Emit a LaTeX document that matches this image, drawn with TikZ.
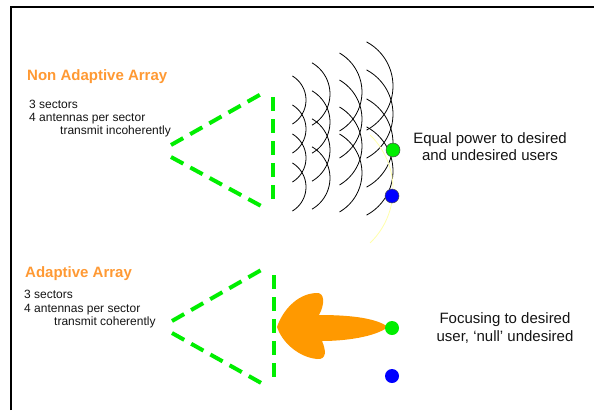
\documentclass[tikz,border=0pt]{standalone}
\usepackage{fontspec}
\setmainfont{Liberation Sans}
\definecolor{dgreen}{RGB}{0,238,0}
\definecolor{orangeT}{RGB}{255,153,51}
\definecolor{orangeF}{RGB}{255,153,0}
\definecolor{paleY}{RGB}{255,255,170}
\definecolor{txt}{RGB}{20,20,20}
\tikzset{
  frame/.style={line width=2pt, black},
  sectorline/.style={dgreen, line width=4pt, dash pattern=on 14pt off 8pt},
  wave/.style={black, line width=0.8pt},
  title/.style={font=\fontsize{15}{17}\selectfont\bfseries, text=orangeT, inner sep=0pt},
  small/.style={font=\fontsize{12}{13}\selectfont, text=txt, inner sep=0pt},
  big/.style={font=\fontsize{15}{17}\selectfont, text=txt, inner sep=0pt},
  dotg/.style={circle, fill=dgreen, minimum size=14pt, inner sep=0pt},
  dotb/.style={circle, fill=blue, minimum size=14pt, inner sep=0pt},
}
\begin{document}
\begin{tikzpicture}[x=1pt,y=-1pt]
\useasboundingbox (0,0) rectangle (594,410);
% frame
\coordinate (fbl) at (11,410);
\coordinate (ftl) at (11,7);
\coordinate (ftr) at (594,7);
\draw[frame] (fbl) -- (ftl) -- (ftr);

% ---------- top: non adaptive ----------
\node[title, anchor=base west] (t1) at (27,80) {Non Adaptive Array};
\node[small, anchor=base west] (a1) at (29,108) {3 sectors};
\node[small, anchor=base west] (a2) at (29,121) {4 antennas per sector};
\node[small, anchor=base west] (a3) at (60,134) {transmit incoherently};

\coordinate (u1) at (171,145); \coordinate (u2) at (263,93);
\coordinate (l1) at (171,157); \coordinate (l2) at (263,207);
\coordinate (v1) at (273,97); \coordinate (v2) at (273,205);
\draw[sectorline] (u1) -- (u2);
\draw[sectorline] (l1) -- (l2);
\draw[sectorline] (v1) -- (v2);

% waves
\foreach \cy in {100,129,158,187}
  \draw[wave] plot[domain=-59:59, samples=24, smooth] ({278+28*cos(\x)},{\cy+28*sin(\x)});
\foreach \cy in {94,122,150,178}
  \draw[wave] plot[domain=-60:60, samples=24, smooth] ({294+36*cos(\x)},{\cy+36*sin(\x)});
\foreach \cy in {92,119,146,173}
  \draw[wave] plot[domain=-60:60, samples=24, smooth] ({317+45*cos(\x)},{\cy+45*sin(\x)});
\foreach \cy in {86,114,143,171}
  \draw[wave] plot[domain=-62:62, samples=24, smooth] ({343+50*cos(\x)},{\cy+50*sin(\x)});
% pale yellow arc
\draw[paleY, line width=0.8pt] plot[domain=-46:46, samples=24, smooth] ({318+75*cos(\x)},{189+75*sin(\x)});

\node[dotg, draw=black!70, line width=0.5pt] (g1) at (393,150) {};
\node[dotb, draw=black!70, line width=0.5pt] (b1) at (392,196) {};

\node[big, anchor=base] (e1) at (490,143) {Equal power to desired};
\node[big, anchor=base] (e2) at (490,160) {and undesired users};

% ---------- bottom: adaptive ----------
\node[title, anchor=base west] (t2) at (25,277) {Adaptive Array};
\node[small, anchor=base west] (c1) at (24,298) {3 sectors};
\node[small, anchor=base west] (c2) at (24,312) {4 antennas per sector};
\node[small, anchor=base west] (c3) at (54,325) {transmit coherently};

\coordinate (uu1) at (172,321); \coordinate (uu2) at (263,269);
\coordinate (ll1) at (172,333); \coordinate (ll2) at (263,384);
\coordinate (vv1) at (274,275); \coordinate (vv2) at (274,379);
\draw[sectorline] (uu1) -- (uu2);
\draw[sectorline] (ll1) -- (ll2);

% orange beam arrow
\fill[orangeF] (277,327)
  .. controls (282,312) and (296,294) .. (316,293)
  .. controls (325,292) and (325,304) .. (319,315)
  .. controls (345,315) and (375,317) .. (388,327)
  .. controls (375,337) and (345,341) .. (322,341)
  .. controls (326,350) and (327,360) .. (317,359)
  .. controls (298,357) and (282,342) .. (277,327) -- cycle;

\draw[sectorline] (vv1) -- (vv2);

\node[dotg] (g2) at (392,328) {};
\node[dotb] (b2) at (392,376) {};

\node[big, anchor=base] (f1) at (505,323) {Focusing to desired};
\node[big, anchor=base] (f2) at (505,341) {user, ‘null’ undesired};
\end{tikzpicture}
\end{document}
